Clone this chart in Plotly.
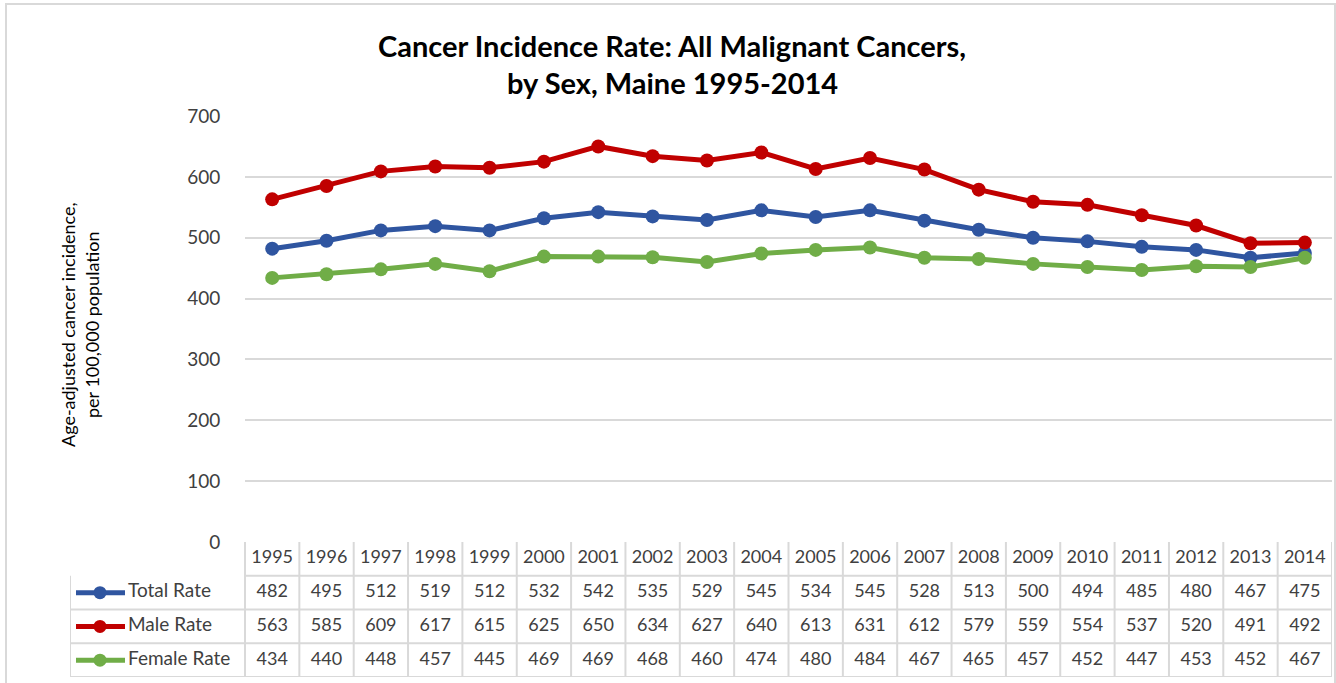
import plotly.graph_objects as go

# ── Data ──────────────────────────────────────────────
years = list(range(1995, 2015))
total_rate = [482, 495, 512, 519, 512, 532, 542, 535, 529, 545,
              534, 545, 528, 513, 500, 494, 485, 480, 467, 475]
male_rate = [563, 585, 609, 617, 615, 625, 650, 634, 627, 640,
             613, 631, 612, 579, 559, 554, 537, 520, 491, 492]
female_rate = [434, 440, 448, 457, 445, 469, 469, 468, 460, 474,
               480, 484, 467, 465, 457, 452, 447, 453, 452, 467]
series_names = ["Total Rate", "Male Rate", "Female Rate"]
series_colors = ["#2F55A0", "#C00000", "#70AD47"]
y_ticks = [0, 100, 200, 300, 400, 500, 600, 700]

title_lines = ["Cancer Incidence Rate: All Malignant Cancers,",
               "by Sex, Maine 1995-2014"]
ytitle_lines = ["Age-adjusted cancer incidence,", "per 100,000 population"]

# ── Geometry (pixels) ─────────────────────────────────
W, H = 1336, 683
PLOT_L, PLOT_R = 245, 1332
PLOT_T, PLOT_B = 116, 542
TABLE_L, TABLE_B = 70, 677
FONT = "Lato"
GRID = "#D9D9D9"
TXT = "#404040"


def px(x):
    return x / W


def py(y):
    return 1 - y / H


colw = (PLOT_R - PLOT_L) / len(years)
x_lo = years[0] - 0.5
x_hi = years[-1] + 0.5
x2_lo = x_lo - (PLOT_L - TABLE_L) / colw


def x2u(p):
    return x2_lo + (p - TABLE_L) / colw


fig = go.Figure()
series = [total_rate, male_rate, female_rate]

# ── Lines ─────────────────────────────────────────────
for name, vals, color in zip(series_names, series, series_colors):
    fig.add_trace(go.Scatter(
        x=years, y=vals, mode="lines+markers", name=name,
        line=dict(color=color, width=5),
        marker=dict(color=color, size=14),
        showlegend=False, xaxis="x", yaxis="y",
    ))

# ── Data table ────────────────────────────────────────
n_rows = len(series) + 1
fig.add_trace(go.Scatter(
    x=years, y=[n_rows - 0.5] * len(years), text=[str(y) for y in years],
    mode="text", textfont=dict(family=FONT, size=18, color=TXT),
    showlegend=False, hoverinfo="skip", xaxis="x2", yaxis="y2",
))
for i, (name, vals, color) in enumerate(zip(series_names, series, series_colors)):
    row = n_rows - 1.5 - i
    fig.add_trace(go.Scatter(
        x=years, y=[row] * len(years), text=[str(v) for v in vals],
        mode="text", textfont=dict(family=FONT, size=18, color=TXT),
        showlegend=False, hoverinfo="skip", xaxis="x2", yaxis="y2",
    ))
    # legend key: line with a dot in the middle
    fig.add_trace(go.Scatter(
        x=[x2u(76), x2u(125)], y=[row] * 2,
        mode="lines", line=dict(color=color, width=5),
        showlegend=False, hoverinfo="skip", xaxis="x2", yaxis="y2",
    ))
    fig.add_trace(go.Scatter(
        x=[x2u(100)], y=[row],
        mode="markers", marker=dict(color=color, size=13, opacity=1),
        showlegend=False, hoverinfo="skip", xaxis="x2", yaxis="y2",
    ))
    fig.add_trace(go.Scatter(
        x=[x2u(128)], y=[row], text=[name], mode="text",
        textposition="middle right",
        textfont=dict(family=FONT, size=19, color=TXT),
        showlegend=False, hoverinfo="skip", xaxis="x2", yaxis="y2",
    ))

shapes = []
line_style = dict(color=GRID, width=2)
for r in range(n_rows):
    left = x2_lo if r < n_rows - 1 else x_lo
    shapes.append(dict(type="line", xref="x2", yref="y2", x0=left, x1=x_hi,
                       y0=r, y1=r, line=line_style))
for k in range(len(years) + 1):
    shapes.append(dict(type="line", xref="x2", yref="y2", x0=x_lo + k, x1=x_lo + k,
                       y0=0, y1=n_rows, line=line_style))
shapes.append(dict(type="line", xref="x2", yref="y2", x0=x2_lo, x1=x2_lo,
                   y0=0, y1=n_rows - 1, line=line_style))
# outer chart border
shapes.append(dict(type="rect", xref="paper", yref="paper",
                   x0=px(6), x1=px(1335), y0=py(4), y1=py(700),
                   line=dict(color=GRID, width=2)))

annotations = []
for i, t in enumerate(title_lines):
    annotations.append(dict(text=f"<b>{t}</b>", x=px(672), y=py(45 + 38 * i),
                            xref="paper", yref="paper", showarrow=False,
                            xanchor="center", yanchor="middle",
                            font=dict(family=FONT, size=29, color="#000000")))
for i, t in enumerate(ytitle_lines):
    annotations.append(dict(text=t, x=px(68 + 24 * i), y=py(325),
                            xref="paper", yref="paper", showarrow=False,
                            xanchor="center", yanchor="middle",
                            textangle=-90,
                            font=dict(family=FONT, size=18, color="#000000")))

fig.update_layout(
    width=W, height=H,
    autosize=False,
    margin=dict(l=0, r=0, t=0, b=0, pad=0),
    paper_bgcolor="white", plot_bgcolor="white",
    font=dict(family=FONT, color=TXT),
    xaxis=dict(domain=[px(PLOT_L), px(PLOT_R)], range=[x_lo, x_hi],
               showgrid=False, zeroline=False, showticklabels=False,
               fixedrange=True, automargin=False),
    yaxis=dict(domain=[py(PLOT_B), py(PLOT_T)], range=[0, 700],
               tickvals=y_ticks, showgrid=True, gridcolor=GRID, gridwidth=2,
               zeroline=False, ticks="outside", ticklen=20,
               tickcolor="rgba(0,0,0,0)", automargin=False,
               tickfont=dict(family=FONT, size=19, color=TXT)),
    xaxis2=dict(domain=[px(TABLE_L), px(PLOT_R)], range=[x2_lo, x_hi],
                anchor="y2", visible=False, automargin=False),
    yaxis2=dict(domain=[py(TABLE_B), py(PLOT_B)], range=[0, n_rows],
                anchor="x2", visible=False, automargin=False),
    shapes=shapes,
    annotations=annotations,
)

fig.write_html(
    "out.html",
    config={"displayModeBar": False},
    post_script="document.body.style.margin='0';document.body.style.overflow='hidden';",
)
